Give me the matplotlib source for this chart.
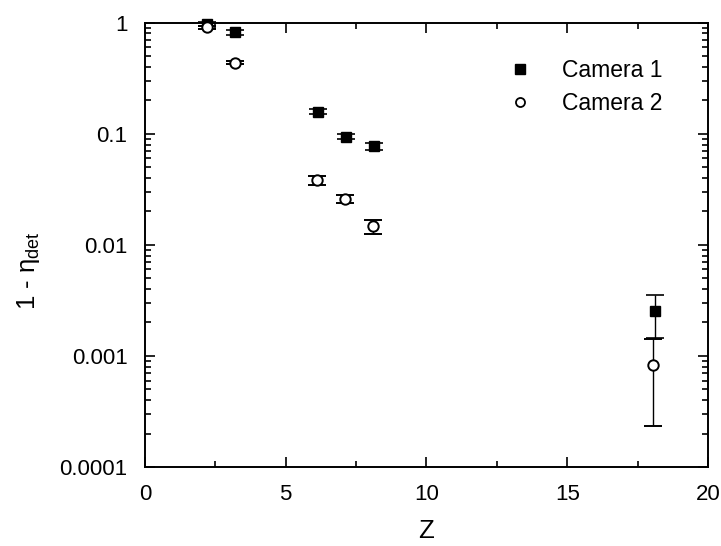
import matplotlib
matplotlib.use("Agg")
import matplotlib.pyplot as plt
from matplotlib.ticker import LogLocator, NullFormatter, MultipleLocator
from matplotlib.lines import Line2D
import numpy as np

plt.rcParams['font.family'] = ['Liberation Sans', 'DejaVu Sans']
plt.rcParams['mathtext.fontset'] = 'custom'
plt.rcParams['mathtext.rm'] = 'Liberation Sans'
plt.rcParams['mathtext.it'] = 'Liberation Sans'

# Camera 1 (filled squares)
z1 = [2.2, 3.2, 6.15, 7.15, 8.15, 18.1]
y1 = [0.97, 0.82, 0.158, 0.094, 0.077, 0.00253]
e1_lo = [0.04, 0.04, 0.008, 0.005, 0.006, 0.00107]
e1_hi = [0.04, 0.04, 0.008, 0.005, 0.006, 0.00104]

# Camera 2 (open circles)
z2 = [2.2, 3.2, 6.1, 7.1, 8.1, 18.05]
y2 = [0.91, 0.437, 0.0386, 0.0259, 0.0147, 0.00083]
e2_lo = [0.03, 0.012, 0.0038, 0.0023, 0.0022, 0.000596]
e2_hi = [0.03, 0.012, 0.0034, 0.0024, 0.0020, 0.0006]

xticks = [0, 5, 10, 15, 20]
yticks = [1e-4, 1e-3, 1e-2, 1e-1, 1]
yticklabels = ['0.0001', '0.001', '0.01', '0.1', '1']
labels = ['Camera 1', 'Camera 2']

fig = plt.figure(figsize=(7.21, 5.46), dpi=100)
ax = fig.add_axes([0.201, 0.1447, 0.781, 0.8137])

ax.errorbar(z1, y1, yerr=[e1_lo, e1_hi], fmt='s', color='black', mfc='black',
            ms=7.5, capsize=6.5, elinewidth=1.0, capthick=1.2, zorder=3, clip_on=False)
ax.errorbar(z2, y2, yerr=[e2_lo, e2_hi], fmt='o', color='black', mfc='white',
            ms=7.5, mew=1.4, capsize=6.5, elinewidth=1.0, capthick=1.2, zorder=3, clip_on=False)

ax.set_yscale('log')
ax.set_xlim(0, 20)
ax.set_ylim(1e-4, 1)
ax.set_xticks(xticks)
ax.set_xticklabels([str(t) for t in xticks])
ax.xaxis.set_minor_locator(MultipleLocator(2.5))
ax.set_yticks(yticks)
ax.set_yticklabels(yticklabels)
ax.yaxis.set_minor_locator(LogLocator(base=10, subs=np.arange(2, 10), numticks=20))
ax.yaxis.set_minor_formatter(NullFormatter())

ax.tick_params(which='both', direction='in', top=True, right=True, labelsize=16, width=1.2)
ax.tick_params(which='major', length=7)
ax.tick_params(which='minor', length=4)
ax.tick_params(axis='x', which='major', pad=12)
ax.tick_params(axis='y', which='major', pad=12.5)
for s in ax.spines.values():
    s.set_linewidth(1.4)

ax.set_xlabel('Z', fontsize=18.5)
ax.xaxis.set_label_coords(0.5, -0.118)
ax.set_ylabel(r'1 - $\mathregular{\eta_{det}}$', fontsize=18.5)
ax.yaxis.set_label_coords(-0.183, 0.443)

h = [Line2D([], [], marker='s', ls='none', color='black', ms=6.5),
     Line2D([], [], marker='o', ls='none', color='black', mfc='white', ms=6.5, mew=1.3)]
ax.legend(h, labels, loc='upper left', bbox_to_anchor=(0.61, 0.964), frameon=False,
          fontsize=16.5, handletextpad=1.3, labelspacing=0.42, handlelength=1.0)

fig.savefig('out.png', dpi=100)
